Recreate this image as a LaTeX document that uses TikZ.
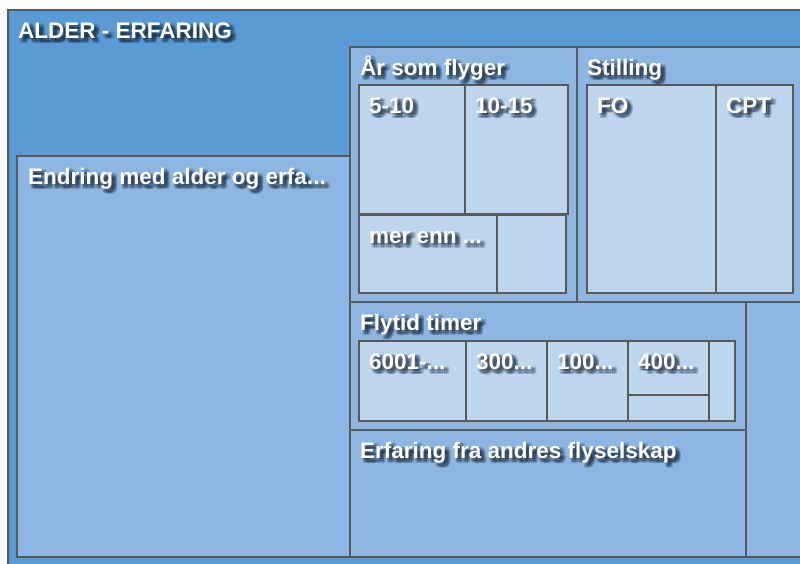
\documentclass[tikz,border=0pt]{standalone}
\usepackage{fontspec}
\setmainfont{Liberation Sans}
\definecolor{framegray}{HTML}{595959}
\definecolor{outerblue}{HTML}{5B9BD5}
\definecolor{midblue}{HTML}{8DB6E2}
\definecolor{leafblue}{HTML}{BDD6EE}
\definecolor{shadowc}{HTML}{0F1E33}
\tikzset{
  x=1pt, y=-1pt,
  frame/.style={draw=framegray, line width=2pt},
  outerbox/.style={frame, fill=outerblue, line width=2.6pt},
  groupbox/.style={frame, fill=midblue},
  leafbox/.style={frame, fill=leafblue},
  lbl/.style={anchor=base west, inner sep=0pt, text=white,
    font=\fontsize{22.5}{27}\selectfont\bfseries},
  lblshadow/.style={lbl, text=shadowc, opacity=0.11},
}
% white label with a soft dark drop shadow: name, position, text
\newcommand\boxlabel[3]{%
  \foreach \dx in {1.2,2.6,4,5.4}{\foreach \dy in {1.2,2.6,4,5.4}{%
    \node[lblshadow, xshift=\dx pt, yshift=-\dy pt] at #2 {#3};}}%
  \node[lbl] (#1) at #2 {#3};}
\begin{document}
\begin{tikzpicture}
\useasboundingbox (0,0) rectangle (800,563);
\fill[white] (0,0) rectangle (800,563);
\clip (0,0) rectangle (800,563);

% top level
\draw[outerbox] (8,10) rectangle (815,580);

% groups
\draw[groupbox] (17,156) rectangle (350,557);
\draw[groupbox] (350,47) rectangle (577,302);
\draw[groupbox] (577,47) rectangle (815,302);
\draw[groupbox] (350,302) rectangle (746,430);
\draw[groupbox] (350,430) rectangle (746,557);
\draw[groupbox] (746,302) rectangle (815,557);

% years as pilot
\draw[leafbox] (359,85) rectangle (465,214);
\draw[leafbox] (465,85) rectangle (568,214);
\draw[leafbox] (359,215) rectangle (497,293);
\draw[leafbox] (497,215) rectangle (566,293);

% position
\draw[leafbox] (587,85) rectangle (716,293);
\draw[leafbox] (716,85) rectangle (793,293);

% flight hours
\draw[leafbox] (359,341) rectangle (466,421);
\draw[leafbox] (466,341) rectangle (547,421);
\draw[leafbox] (547,341) rectangle (628,421);
\draw[leafbox] (628,341) rectangle (709,395);
\draw[leafbox] (628,395) rectangle (709,421);
\draw[leafbox] (709,341) rectangle (735,421);

% labels
\boxlabel{tTitle}{(18,38.5)}{ALDER - ERFARING}
\boxlabel{tEndring}{(28,184.5)}{Endring med alder og erfa...}
\boxlabel{tAar}{(360,75.5)}{År som flyger}
\boxlabel{tStilling}{(587,75.5)}{Stilling}
\boxlabel{t510}{(369,113)}{5-10}
\boxlabel{t1015}{(475,113)}{10-15}
\boxlabel{tMer}{(369,243)}{mer enn ...}
\boxlabel{tFO}{(597,113)}{FO}
\boxlabel{tCPT}{(726,113)}{CPT}
\boxlabel{tFlytid}{(360,330.5)}{Flytid timer}
\boxlabel{t6001}{(369,369)}{6001-...}
\boxlabel{t300}{(476,369)}{300...}
\boxlabel{t100}{(557,369)}{100...}
\boxlabel{t400}{(638,369)}{400...}
\boxlabel{tErf}{(360,458.5)}{Erfaring fra andres flyselskap}
\end{tikzpicture}
\end{document}
